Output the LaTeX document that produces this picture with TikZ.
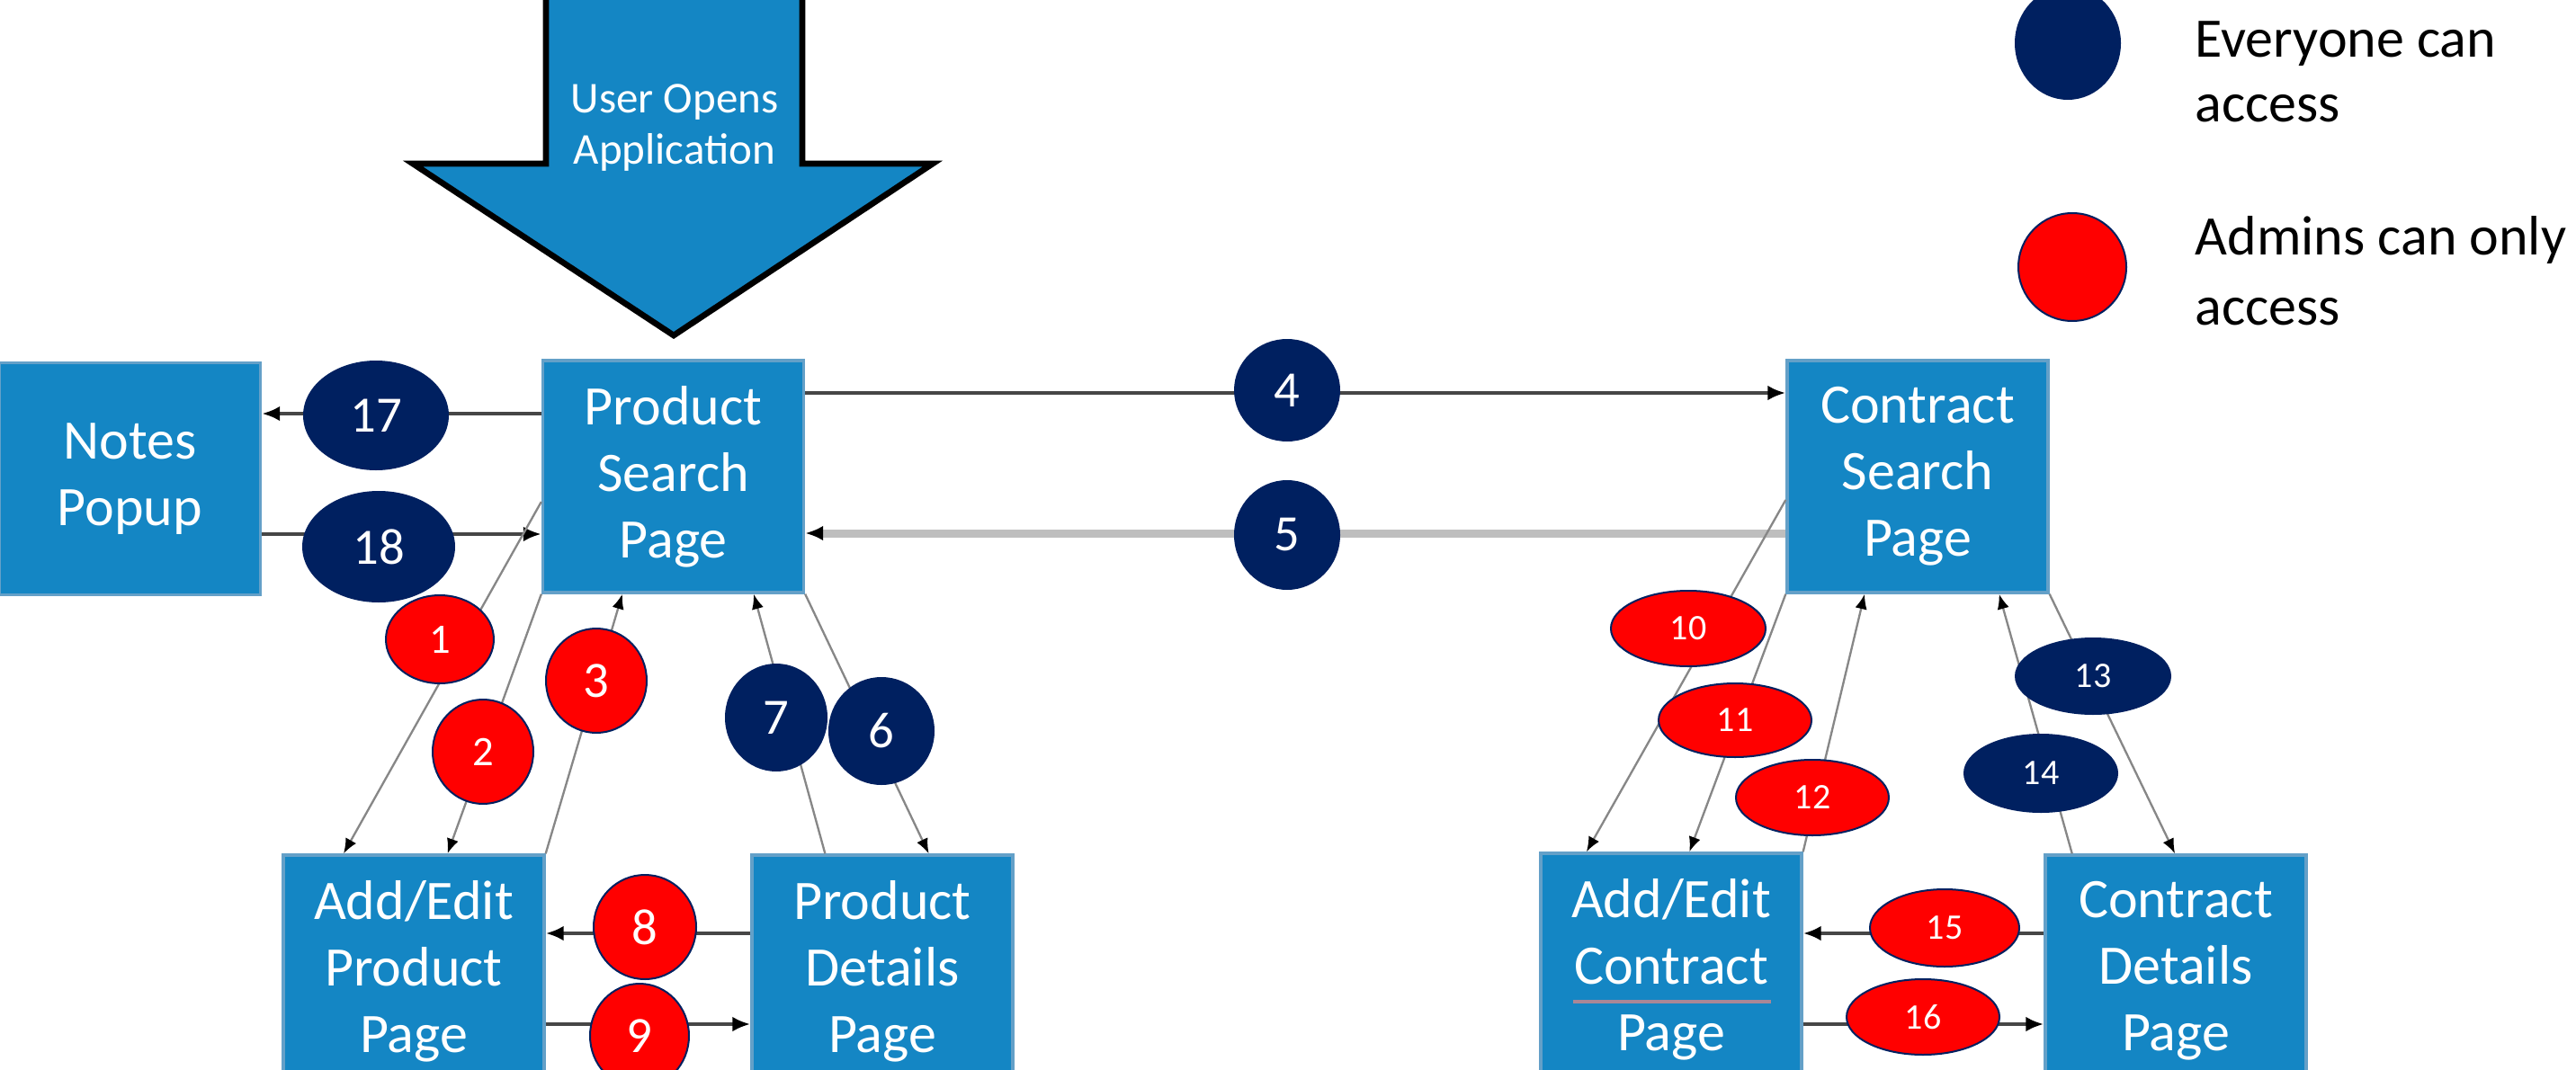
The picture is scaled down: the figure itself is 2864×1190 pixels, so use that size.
\documentclass[tikz,border=0pt]{standalone}
\usepackage{fontspec}
\setmainfont{Carlito}
\usetikzlibrary{shapes.geometric,arrows.meta,calc}
\definecolor{boxblue}{RGB}{20,134,196}
\definecolor{boxedge}{RGB}{100,160,200}
\definecolor{navy}{RGB}{0,32,96}
\definecolor{alertred}{RGB}{255,0,0}
\definecolor{darkline}{RGB}{70,70,70}
\definecolor{paleline}{RGB}{190,190,190}
\definecolor{thinline}{RGB}{135,135,135}
\definecolor{squiggle}{RGB}{170,135,150}

\begin{document}
\begin{tikzpicture}[x=0.3pt,y=-0.3pt,
  page/.style={rectangle,fill=boxblue,draw=boxedge,line width=1pt,
    minimum width=87pt,minimum height=77.4pt,inner sep=0pt,text=white,
    align=center,font=\fontsize{18.6}{22.2}\selectfont,
    execute at begin node={\rule{0pt}{16.6pt}}},
  everyone/.style={ellipse,fill=navy,draw=navy,line width=0.6pt,inner sep=0pt,text=white},
  admin/.style={ellipse,fill=alertred,draw=navy,line width=0.6pt,inner sep=0pt,text=white},
  bignum/.style={font=\fontsize{17}{19}\selectfont},
  midnum/.style={font=\fontsize{14}{16}\selectfont},
  smallnum/.style={font=\fontsize{12}{14}\selectfont},
  flow/.style={draw=darkline,line width=1.2pt,-{Latex[length=6pt,width=5pt,color=black]}},
  backflow/.style={draw=paleline,line width=2.7pt,-{Latex[length=6pt,width=5pt,color=black]}},
  link/.style={draw=thinline,line width=0.7pt,-{Latex[length=5pt,width=4pt,color=black]}},
  legendtext/.style={anchor=base west,inner sep=0pt,font=\fontsize{18.6}{22}\selectfont},
]
\useasboundingbox (0,0) rectangle (2864,1190);
\clip (0,0) rectangle (2864,1190);

% entry arrow
\draw[fill=boxblue,draw=black,line width=2pt,line join=miter]
  (607,-30) -- (607,182) -- (459,182) -- (749,373) -- (1037,182)
  -- (892,182) -- (892,-30) -- cycle;
\node[text=white,align=center,font=\fontsize{14.7}{17.1}\selectfont] (start) at (750,142)
  {User Opens\\Application};

% pages
\node[page] (notes) at (144.5,532.5) {Notes\\Popup};
\node[page] (ps)  at (748.5,530)  {Product\\Search\\Page};
\node[page] (aep) at (460,1080)   {Add/Edit\\Product\\Page};
\node[page] (pd)  at (981,1080)   {Product\\Details\\Page};
\node[page] (cs)  at (2132,530)   {Contract\\Search\\Page};
\node[page] (aec) at (1858,1078)  {Add/Edit\\Contract\\Page};
\node[page] (cd)  at (2419,1080)  {Contract\\Details\\Page};
\draw[draw=squiggle,line width=1.4pt] (1749,1114) -- (1969,1114);

% horizontal connectors
\coordinate (p17) at ([yshift=21pt]ps.west);
\coordinate (n18) at ([yshift=-18.45pt]notes.east);
\coordinate (p4)  at ([yshift=27.9pt]ps.east);
\coordinate (c5)  at ([yshift=-18.9pt]cs.west);
\coordinate (d8)  at ([yshift=12.6pt]pd.west);
\coordinate (a9)  at ([yshift=-17.7pt]aep.east);
\coordinate (d15) at ([yshift=12.6pt]cd.west);
\coordinate (a16) at ([yshift=-18.3pt]aec.east);
\draw[flow] (p17) -- (p17 -| notes.east);
\draw[flow] (n18) -- (n18 -| ps.west);
\draw[flow] (p4) -- (p4 -| cs.west);
\draw[backflow] (c5) -- (c5 -| ps.east);
\draw[flow] (d8) -- (d8 -| aep.east);
\draw[flow] (a9) -- (a9 -| pd.west);
\draw[flow] (d15) -- (d15 -| aec.east);
\draw[flow] (a16) -- (a16 -| cd.west);

% slanted connectors, product side
\draw[link] ([yshift=-8.4pt]ps.west) -- ($(aep.north west)!0.234!(aep.north east)$);
\draw[link] (ps.south west) -- ($(aep.north west)!0.628!(aep.north east)$);
\draw[link] (aep.north east) -- ($(ps.south west)!0.307!(ps.south east)$);
\draw[link] ($(pd.north west)!0.283!(pd.north east)$) -- ($(ps.south west)!0.805!(ps.south east)$);
\draw[link] (ps.south east) -- ($(pd.north west)!0.676!(pd.north east)$);

% slanted connectors, contract side
\draw[link] ([yshift=-7.8pt]cs.west) -- ($(aec.north west)!0.179!(aec.north east)$);
\draw[link] (cs.south west) -- ($(aec.north west)!0.569!(aec.north east)$);
\draw[link] (aec.north east) -- ($(cs.south west)!0.299!(cs.south east)$);
\draw[link] ($(cd.north west)!0.107!(cd.north east)$) -- ($(cs.south west)!0.809!(cs.south east)$);
\draw[link] (cs.south east) -- ($(cd.north west)!0.497!(cd.north east)$);

% access markers
\node[everyone,bignum,minimum width=48pt,minimum height=36pt]   (m17) at (418,462)  {17};
\node[everyone,bignum,minimum width=50.4pt,minimum height=36.6pt] (m18) at (421,608) {18};
\node[admin,midnum,minimum width=36pt,minimum height=29.4pt]    (m1)  at (489,711)  {1};
\node[admin,midnum,minimum width=33.6pt,minimum height=34.8pt]  (m2)  at (537,836)  {2};
\node[admin,bignum,minimum width=33.6pt,minimum height=34.8pt]  (m3)  at (663,757)  {3};
\node[everyone,bignum,minimum width=33.6pt,minimum height=35.4pt] (m7) at (863,798) {7};
\node[everyone,bignum,minimum width=34.8pt,minimum height=35.4pt] (m6) at (980,813) {6};
\node[admin,bignum,minimum width=34.2pt,minimum height=34.8pt]  (m8)  at (717,1031) {8};
\node[admin,bignum,minimum width=33pt,minimum height=34.8pt]    (m9)  at (711,1152) {9};
\node[everyone,bignum,minimum width=34.8pt,minimum height=33.6pt] (m4) at (1431,434) {4};
\node[everyone,bignum,minimum width=34.8pt,minimum height=36pt]   (m5) at (1431,595) {5};
\node[admin,smallnum,minimum width=51.6pt,minimum height=25.2pt] (m10) at (1877,699) {10};
\node[admin,smallnum,minimum width=51pt,minimum height=24.6pt]   (m11) at (1929,801) {11};
\node[admin,smallnum,minimum width=51pt,minimum height=25.2pt]   (m12) at (2015,887) {12};
\node[everyone,smallnum,minimum width=51.6pt,minimum height=25.2pt] (m13) at (2327,752) {13};
\node[everyone,smallnum,minimum width=51pt,minimum height=25.8pt]   (m14) at (2269,860) {14};
\node[admin,smallnum,minimum width=49.8pt,minimum height=25.8pt] (m15) at (2162,1032) {15};
\node[admin,smallnum,minimum width=51pt,minimum height=25.2pt]   (m16) at (2138,1131) {16};

% legend
\node[everyone,minimum width=34.8pt,minimum height=37.2pt] (legall) at (2299,48) {};
\node[admin,minimum width=36pt,minimum height=36pt] (legadmin) at (2304,297) {};
\node[legendtext] (legall1) at (2440,63)  {Everyone can};
\node[legendtext] (legall2) at (2440,135) {access};
\node[legendtext] (legadm1) at (2440,283) {Admins can only};
\node[legendtext] (legadm2) at (2440,361) {access};
\end{tikzpicture}
\end{document}
